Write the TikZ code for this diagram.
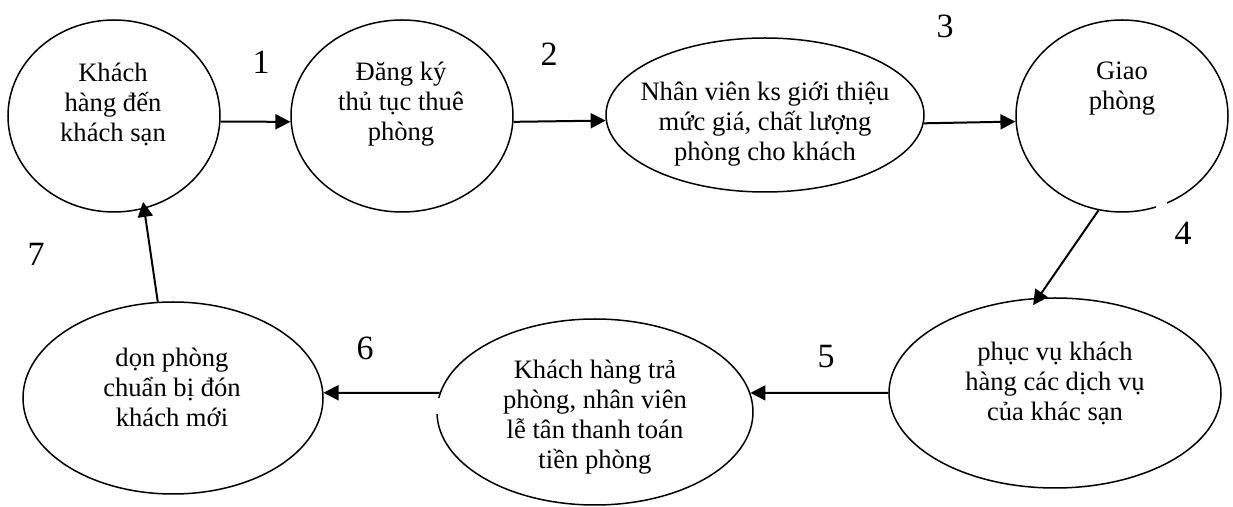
\documentclass[tikz,border=0pt]{standalone}
\usepackage{fontspec}
\setmainfont{Liberation Serif}
\usetikzlibrary{shapes.geometric,arrows.meta}
\begin{document}
\begin{tikzpicture}[x=0.5pt,y=-0.5pt,
  stage/.style={ellipse,draw,line width=0.75pt,inner sep=0pt},
  txt/.style={align=center,font=\fontsize{13.3}{15}\selectfont,inner sep=0pt},
  num/.style={font=\fontsize{17}{20}\selectfont,inner sep=0pt},
  flow/.style={line width=1pt,-{Triangle[length=7.5pt,width=7.5pt]}}]
\useasboundingbox (0,0) rectangle (1233,507);
% stages
\node[stage,minimum width=106pt,minimum height=96pt] (c1) at (114,116) {};
\node[stage,minimum width=111pt,minimum height=96pt] (c2) at (402,116) {};
\node[stage,minimum width=159pt,minimum height=77pt] (e3) at (765,115) {};
\node[stage,minimum width=106pt,minimum height=96pt] (c4) at (1122,116) {};
\node[stage,minimum width=166pt,minimum height=95pt] (e5) at (1055,393) {};
\node[stage,minimum width=158pt,minimum height=93pt] (e6) at (595,412) {};
\node[stage,minimum width=150pt,minimum height=96pt] (e7) at (173,398) {};
% small gaps in outlines
\fill[white] (430,398) rectangle (446,414);
\fill[white] (1156,197) rectangle (1167,212);
% texts
\node[txt] (t1) at (113,104) {Khách\\hàng đến\\khách sạn};
\node[txt] (t2) at (401,104) {Đăng ký\\thủ tục thuê\\phòng};
\node[txt] (t3) at (765,124) {Nhân viên ks giới thiệu\\mức giá, chất lượng\\phòng cho khách};
\node[txt] (t4) at (1122,89) {Giao\\phòng};
\node[txt] (t5) at (1055,383) {phục vụ khách\\hàng các dịch vụ\\của khác sạn};
\node[txt] (t6) at (595,417) {Khách hàng trả\\phòng, nhân viên\\lễ tân thanh toán\\tiền phòng};
\node[txt] (t7) at (172,387) {dọn phòng\\chuẩn bị đón\\khách mới};
% connectors
\draw[flow] (c1.-3) -- (c2.183);
\draw[flow] (c2.-3) -- (e3.182);
\draw[flow] (e3.-3) -- (c4.183);
\draw[flow,shorten >=-4.5pt] (c4.256) -- (e5.100);
\draw[flow] (e5.180) -- (e6.7);
\draw[flow] (e6.173) -- (e7.2);
\draw[flow,shorten >=-3.5pt] (e7.99) -- (c1.-72);
% step numbers
\node[num] (n1) at (261,62) {1};
\node[num] (n2) at (549,54) {2};
\node[num] (n3) at (945,26) {3};
\node[num] (n4) at (1183,233) {4};
\node[num] (n5) at (826,357) {5};
\node[num] (n6) at (365,348) {6};
\node[num] (n7) at (36,254) {7};
\end{tikzpicture}
\end{document}
